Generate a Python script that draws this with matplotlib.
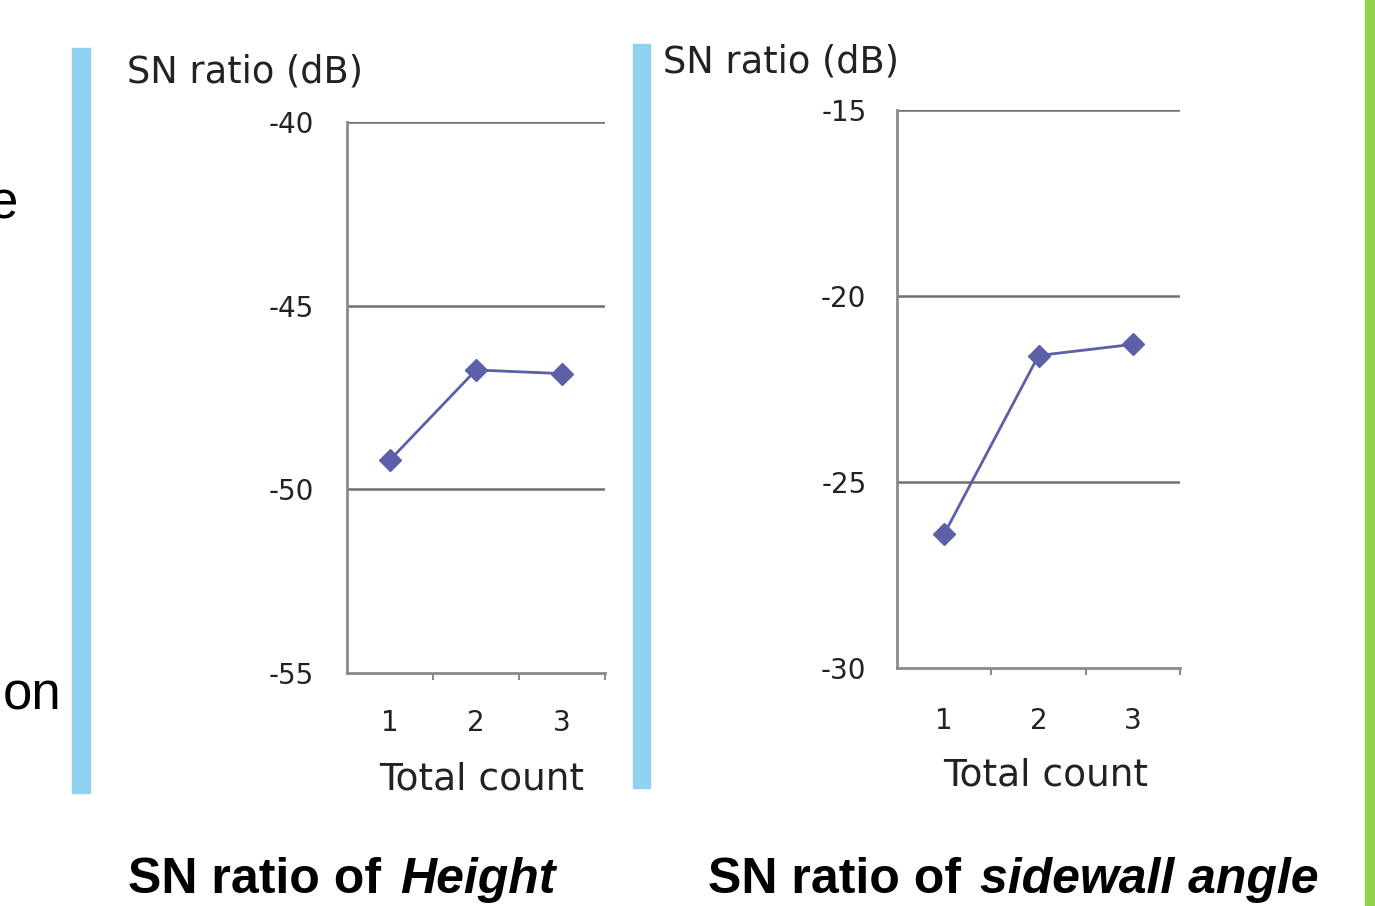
import matplotlib.pyplot as plt
from matplotlib.patches import Rectangle

plt.rcParams['axes.unicode_minus'] = False

counts = [1, 2, 3]
height_sn = [-49.2, -46.75, -46.85]
sidewall_sn = [-26.4, -21.6, -21.3]

height_ticks = [-55, -50, -45, -40]
sidewall_ticks = [-30, -25, -20, -15]

W, H = 1375, 906
fig = plt.figure(figsize=(W / 100, H / 100), dpi=100)

line_col = '#5b60a8'
grid_col = '#707070'
spine_col = '#8a8a8a'


def px_axes(x0, y0, x1, y1):
    # pixel box (top-left origin) -> figure fraction
    return fig.add_axes([x0 / W, 1 - y1 / H, (x1 - x0) / W, (y1 - y0) / H])


def sn_panel(ax, values, ticks, ypad, xpad):
    ax.plot(counts, values, color=line_col, lw=2, marker='D', ms=11,
            mfc=line_col, mec=line_col, zorder=3)
    ax.set_xlim(0.5, 3.5)
    ax.set_ylim(ticks[0], ticks[-1])
    ax.set_yticks(ticks)
    ax.set_yticklabels([str(t) for t in ticks])
    ax.set_xticks(counts)
    ax.set_xticks([1.5, 2.5, 3.5], minor=True)
    ax.tick_params(axis='y', length=0, pad=ypad, labelsize=20, labelcolor='#222222')
    ax.tick_params(axis='x', which='major', length=0, pad=xpad, labelsize=20,
                   labelcolor='#222222')
    ax.tick_params(axis='x', which='minor', length=5, width=1.5,
                   direction='out', color=spine_col)
    for t in ticks[1:]:
        ax.axhline(t, color=grid_col, lw=1.8, zorder=1)
    for s in ['top', 'right']:
        ax.spines[s].set_visible(False)
    for s in ['left', 'bottom']:
        ax.spines[s].set_color(spine_col)
        ax.spines[s].set_linewidth(2)
    ax.set_facecolor('white')


ax1 = px_axes(347, 122, 605, 673)
sn_panel(ax1, height_sn, height_ticks, 24, 26)
ax2 = px_axes(897, 110, 1180, 668)
sn_panel(ax2, sidewall_sn, sidewall_ticks, 22, 28)

txt = dict(color='#222222')
fig.text(127 / W, 1 - 72 / H, 'SN ratio (dB)', fontsize=26.5, ha='left', va='center', **txt)
fig.text(663 / W, 1 - 62 / H, 'SN ratio (dB)', fontsize=26.5, ha='left', va='center', **txt)
fig.text(482 / W, 1 - 780 / H, 'Total count', fontsize=27, ha='center', va='center', **txt)
fig.text(1046 / W, 1 - 776 / H, 'Total count', fontsize=27, ha='center', va='center', **txt)

# captions below the charts
cap = dict(fontsize=36, fontweight='bold', family='Liberation Sans', va='center', color='black')
fig.text(128 / W, 1 - 880 / H, 'SN ratio of', ha='left', **cap)
fig.text(400 / W, 1 - 880 / H, 'Height', ha='left', style='italic', **cap)
fig.text(708 / W, 1 - 880 / H, 'SN ratio of', ha='left', **cap)
fig.text(980 / W, 1 - 880 / H, 'sidewall angle', ha='left', style='italic', **cap)

# slide decorations
fig.patches.append(Rectangle((72 / W, 1 - 793 / H), 18 / W, 745 / H,
                             transform=fig.transFigure, color='#8fd2f2', zorder=0))
fig.patches.append(Rectangle((633 / W, 1 - 788 / H), 17 / W, 744 / H,
                             transform=fig.transFigure, color='#8fd2f2', zorder=0))
fig.patches.append(Rectangle((1365 / W, 0), 10 / W, 1,
                             transform=fig.transFigure, color='#92d050', zorder=0))
side = dict(fontsize=38, family='Liberation Sans', va='center', color='black')
fig.text(-11 / W, 1 - 205 / H, 'e', ha='left', **side)
fig.text(3 / W, 1 - 696 / H, 'on', ha='left', **side)

fig.savefig('out.png', dpi=100)
